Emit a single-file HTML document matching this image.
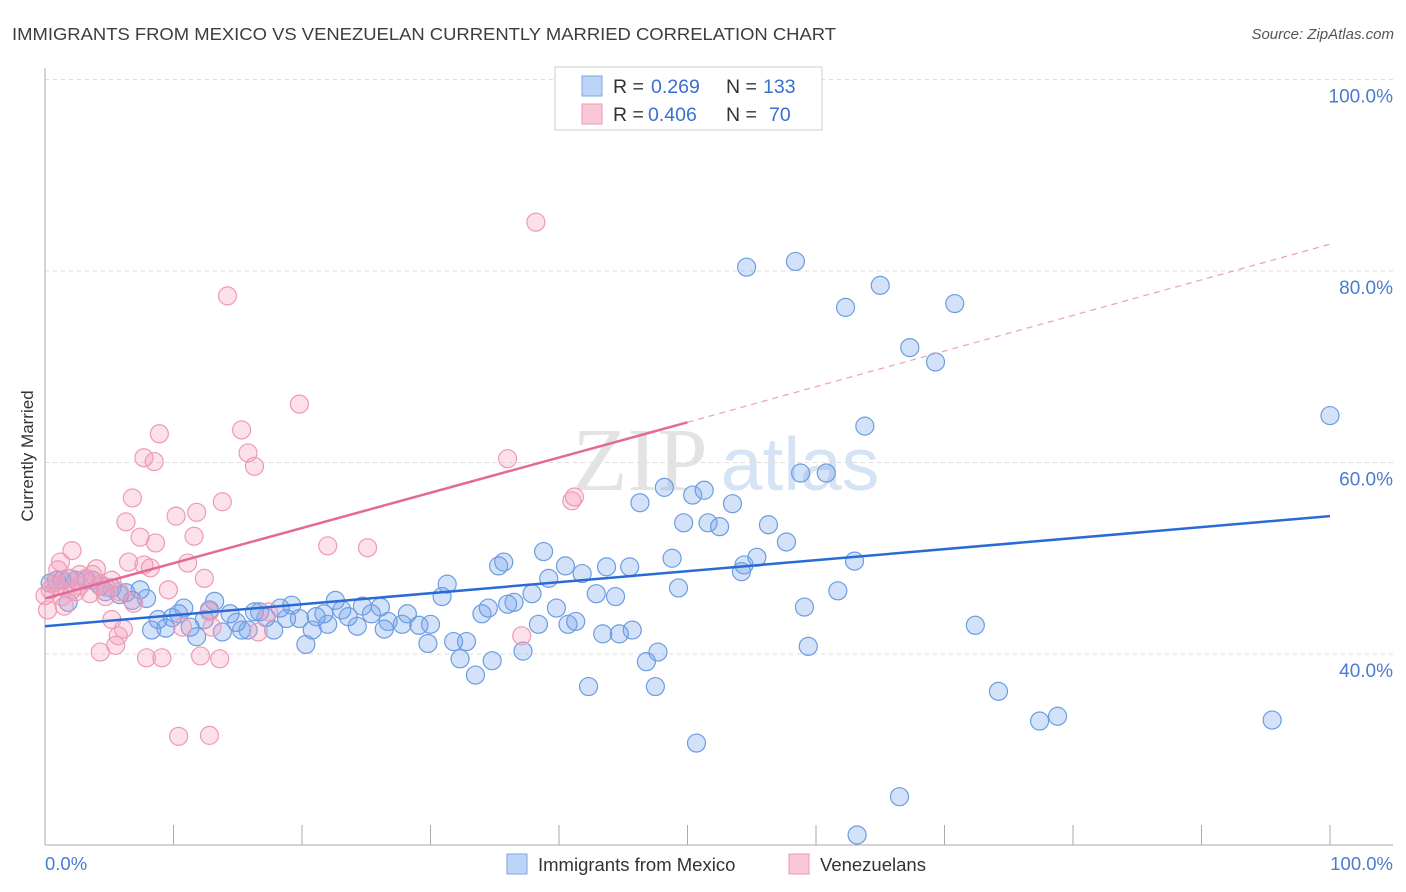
<!DOCTYPE html>
<html><head><meta charset="utf-8">
<style>
body{margin:0;background:#fff;font-family:"Liberation Sans",sans-serif;}
svg{display:block}
</style></head>
<body>
<svg id="chart" width="1406" height="892" viewBox="0 0 1406 892" xmlns="http://www.w3.org/2000/svg">
<text x="12" y="40" font-size="17.5" fill="#3d3d3d" textLength="824" lengthAdjust="spacingAndGlyphs">IMMIGRANTS FROM MEXICO VS VENEZUELAN CURRENTLY MARRIED CORRELATION CHART</text>
<text x="1394" y="39" font-size="15" fill="#555" text-anchor="end" font-style="italic">Source: ZipAtlas.com</text>
<text transform="translate(33,456) rotate(-90)" font-size="17" fill="#333" text-anchor="middle">Currently Married</text>
<g>
<text x="640" y="490" font-size="90" fill="#e3e3e3" text-anchor="middle" font-family="Liberation Serif, serif">ZIP</text>
<text x="800" y="490" font-size="75" fill="#d5e3f5" text-anchor="middle">atlas</text>
</g>
<g id="grid"></g>
<g id="axes"></g>
<g id="points"></g>
<g id="lines"></g>
<g>
<rect x="555" y="67" width="267" height="63" fill="#fff" stroke="#ccc"/>
<rect x="582" y="76" width="20" height="20" fill="#bcd5f6" stroke="#7aa6e6"/>
<rect x="582" y="104" width="20" height="20" fill="#f9c8d7" stroke="#ee9ab5"/>
<text x="613" y="93" font-size="19.5" fill="#333">R =</text>
<text x="651" y="93" font-size="19.5" fill="#3a6fd0">0.269</text>
<text x="726" y="93" font-size="19.5" fill="#333">N =</text>
<text x="763" y="93" font-size="19.5" fill="#3a6fd0">133</text>
<text x="613" y="121" font-size="19.5" fill="#333">R =</text>
<text x="648" y="121" font-size="19.5" fill="#3a6fd0">0.406</text>
<text x="726" y="121" font-size="19.5" fill="#333">N =</text>
<text x="769" y="121" font-size="19.5" fill="#3a6fd0">70</text>
</g>
<g>
<rect x="507" y="854" width="20" height="20" fill="#bcd5f6" stroke="#7aa6e6"/>
<text x="538" y="871" font-size="18.5" fill="#333">Immigrants from Mexico</text>
<rect x="789" y="854" width="20" height="20" fill="#f9c8d7" stroke="#ee9ab5"/>
<text x="820" y="871" font-size="18.5" fill="#333">Venezuelans</text>
</g>
</svg>
<script>
const yTicks=[40,60,80,100];
const yTickLabels=["40.0%","60.0%","80.0%","100.0%"];
const xTicks=[0,10,20,30,40,50,60,70,80,90,100];
const mexicoX=[54.6,58.4,65.0,62.3,70.8,67.3,69.3,63.8,100,58.8,60.8,48.2,46.3,50.4,51.3,53.5,49.7,51.6,52.5,56.3,57.7,55.4,54.4,54.2,63.0,48.8,49.3,61.7,59.1,59.4,72.4,74.2,77.4,78.8,95.5,66.5,63.2,50.7,47.5,42.3,47.7,46.8,45.7,44.7,43.4,44.4,42.9,43.7,45.5,41.8,40.5,39.2,38.8,35.7,35.3,37.9,36.5,36.0,39.8,38.4,40.7,41.3,37.2,34.8,33.5,32.3,32.8,31.8,34.0,34.5,31.3,30.9,30.0,29.8,29.1,28.2,27.8,26.7,26.4,26.1,25.4,24.7,24.3,23.6,23.1,22.6,22.0,21.7,21.1,20.8,20.3,19.8,19.2,18.8,18.3,17.8,17.2,16.7,16.3,15.8,15.3,14.9,14.4,13.8,13.2,12.8,12.4,11.8,11.3,10.8,10.4,9.9,9.4,8.8,8.3,7.9,7.4,6.8,6.3,5.8,5.2,4.7,4.3,3.7,3.2,2.4,1.9,1.3,0.9,0.4,1.8];
const mexicoY=[80.4,81.0,78.5,76.2,76.6,72.0,70.5,63.8,64.9,58.9,58.9,57.4,55.8,56.6,57.1,55.7,53.7,53.7,53.3,53.5,51.7,50.1,49.3,48.6,49.7,50.0,46.9,46.6,44.9,40.8,43.0,36.1,33.0,33.5,33.1,25.1,21.1,30.7,36.6,36.6,40.2,39.2,42.5,42.1,42.1,46.0,46.3,49.1,49.1,48.4,49.2,47.9,50.7,49.6,49.2,46.3,45.4,45.2,44.8,43.1,43.1,43.4,40.3,39.3,37.8,39.5,41.3,41.3,44.2,44.8,47.3,46.0,43.1,41.1,43.0,44.2,43.1,43.4,42.6,44.9,44.2,45.0,42.9,43.9,44.6,45.6,43.1,44.2,43.9,42.5,41.0,43.7,45.1,43.7,44.8,42.5,43.8,44.4,44.4,42.5,42.5,43.3,44.2,42.3,45.5,44.6,43.6,41.8,42.8,44.8,44.2,43.8,42.7,43.6,42.5,45.8,46.7,45.6,46.4,46.2,46.9,46.5,47.1,47.7,47.7,47.7,47.9,47.7,47.7,47.4,45.4];
const venX=[38.2,14.2,19.8,8.9,15.3,7.7,8.5,15.8,16.3,6.8,13.8,11.8,10.2,6.3,7.4,11.6,8.6,22.0,25.1,36.0,41.0,41.2,1.2,2.1,6.5,7.7,8.2,11.1,1.0,2.7,4.0,1.8,0.7,3.2,4.3,5.2,12.4,9.6,0.4,1.3,2.4,4.7,6.9,12.8,17.4,5.2,6.1,5.7,5.5,4.3,7.9,9.1,12.1,13.6,10.7,13.0,16.6,37.1,10.4,12.8,1.5,0.2,3.5,0,0.9,3.7,2.7,2.1,4.7,5.8];
const venY=[85.1,77.4,66.1,63.0,63.4,60.5,60.1,61.0,59.6,56.3,55.9,54.8,54.4,53.8,52.2,52.3,51.6,51.3,51.1,60.4,56.0,56.4,49.6,50.8,49.6,49.3,49.0,49.5,48.8,48.3,48.9,47.9,47.4,47.9,47.3,47.7,47.9,46.7,46.7,46.0,46.5,46.0,45.3,44.4,44.4,43.6,42.6,41.9,40.9,40.2,39.6,39.6,39.8,39.5,42.8,42.8,42.3,41.9,31.4,31.5,45.0,44.6,46.3,46.1,47.1,48.3,47.1,46.7,47.0,46.5];
const mexicoTrend=[[0,42.9],[100,54.4]];
const venTrendSolid=[[0,45.8],[50,64.2]];
const venTrendDash=[[50,64.2],[100,82.8]];

const NS="http://www.w3.org/2000/svg";
const X=v=>45+v*12.85;
const Y=v=>654-(v-40)*9.575;
function mk(t,a,p){const e=document.createElementNS(NS,t);for(const k in a)e.setAttribute(k,a[k]);p.appendChild(e);return e;}
const grid=document.getElementById('grid'),axes=document.getElementById('axes'),pts=document.getElementById('points'),lines=document.getElementById('lines');
yTicks.forEach((t,i)=>{
 const l=mk('line',{x1:45,x2:1393,y1:Y(t),y2:Y(t),stroke:'#ddd','stroke-dasharray':'4,4'},grid);
 
 
 const tx=mk('text',{x:1393,y:Y(t)+23,'font-size':19,fill:'#4a7bd0','text-anchor':'end'},axes);
 tx.textContent=yTickLabels[i];
 
 
});
const ax=mk('line',{x1:45,x2:45,y1:68,y2:845,stroke:'#aaa'},axes);


const bx=mk('line',{x1:45,x2:1393,y1:845,y2:845,stroke:'#aaa'},axes);


xTicks.forEach(t=>{
 const l=mk('line',{x1:X(t),x2:X(t),y1:825,y2:845,stroke:'#aaa'},axes);
 
 
});
const x0=mk('text',{x:45,y:870,'font-size':18.5,fill:'#4a7bd0'},axes);x0.textContent='0.0%';


const x1=mk('text',{x:1393,y:870,'font-size':18.5,fill:'#4a7bd0','text-anchor':'end'},axes);x1.textContent='100.0%';


mexicoX.forEach((v,i)=>{
 const c=mk('circle',{cx:X(v),cy:Y(mexicoY[i]),r:9,fill:'rgba(120,165,235,0.32)',stroke:'#6b9de0','stroke-width':1.2},pts);
 
 
});
venX.forEach((v,i)=>{
 const c=mk('circle',{cx:X(v),cy:Y(venY[i]),r:9,fill:'rgba(245,160,190,0.32)',stroke:'#ee9ab5','stroke-width':1.2},pts);
 
 
});
const l1=mk('line',{x1:X(mexicoTrend[0][0]),y1:Y(mexicoTrend[0][1]),x2:X(mexicoTrend[1][0]),y2:Y(mexicoTrend[1][1]),stroke:'#2a6ad6','stroke-width':2.5},lines);


const l2=mk('line',{x1:X(venTrendSolid[0][0]),y1:Y(venTrendSolid[0][1]),x2:X(venTrendSolid[1][0]),y2:Y(venTrendSolid[1][1]),stroke:'#e46a96','stroke-width':2.5},lines);


const l3=mk('line',{x1:X(venTrendDash[0][0]),y1:Y(venTrendDash[0][1]),x2:X(venTrendDash[1][0]),y2:Y(venTrendDash[1][1]),stroke:'#eaa0bb','stroke-width':1.2,'stroke-dasharray':'6,5'},lines);


</script>
</body></html>
